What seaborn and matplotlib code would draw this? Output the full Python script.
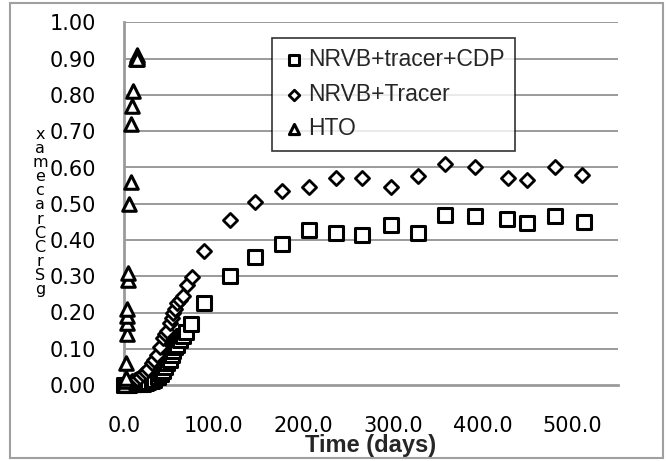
import matplotlib
matplotlib.use("Agg")
import matplotlib.pyplot as plt
import seaborn as sns
import pandas as pd
from matplotlib.patches import Rectangle

# ---------------- data ----------------
cdp_days = [0, 3, 6, 9, 12, 15, 18, 21, 24, 27, 31, 34, 38, 41, 43, 46, 48, 51, 53, 55, 57,
            59, 62, 66, 69, 75, 89, 118, 146, 176, 206, 236, 265, 298, 328, 358, 391, 427,
            449, 481, 513]
cdp_vals = [0.0, 0.0, 0.001, 0.002, 0.002, 0.003, 0.003, 0.004, 0.006, 0.008, 0.01, 0.015,
            0.022, 0.03, 0.04, 0.05, 0.06, 0.07, 0.083, 0.095, 0.105, 0.11, 0.125, 0.135,
            0.145, 0.168, 0.226, 0.30, 0.353, 0.39, 0.427, 0.42, 0.413, 0.44, 0.42, 0.47,
            0.465, 0.458, 0.448, 0.465, 0.45]

trc_days = [0, 3, 6, 9, 12, 15, 18, 21, 24, 27, 31, 34, 37, 40, 43, 46, 48, 51, 53, 55, 57,
            59, 62, 66, 70, 76, 89, 118, 146, 176, 206, 236, 265, 298, 328, 358, 391, 428,
            449, 481, 511]
trc_vals = [0.0, 0.003, 0.006, 0.01, 0.013, 0.017, 0.022, 0.03, 0.035, 0.045, 0.06, 0.07,
            0.083, 0.105, 0.13, 0.14, 0.15, 0.17, 0.185, 0.20, 0.21, 0.226, 0.235, 0.245,
            0.276, 0.298, 0.37, 0.455, 0.505, 0.535, 0.545, 0.57, 0.57, 0.545, 0.577, 0.61,
            0.60, 0.57, 0.565, 0.60, 0.58]

hto_days = [0.5, 1, 2, 2, 3, 3, 3, 3, 4, 4, 6, 8, 8, 9, 10, 13, 14, 15, 14]
hto_vals = [0.0, 0.01, 0.02, 0.06, 0.14, 0.17, 0.19, 0.21, 0.29, 0.31, 0.50, 0.56, 0.72,
            0.77, 0.81, 0.90, 0.91, 0.905, 0.90]

series_names = ["NRVB+tracer+CDP", "NRVB+Tracer", "HTO"]
x_ticks = [0, 100, 200, 300, 400, 500]
y_ticks = [0.0, 0.1, 0.2, 0.3, 0.4, 0.5, 0.6, 0.7, 0.8, 0.9, 1.0]
ylabel_chars = ["x", "a", "m", "e", "c", "a", "r", "C", "C", "r", "S", "g"]

# ---------------- figure ----------------
sns.set_theme(style="white")
plt.rcParams["font.family"] = ["DejaVu Sans"]

fig = plt.figure(figsize=(6.66, 4.61), dpi=100)
fig.patch.set_facecolor("white")
ax = fig.add_axes([124 / 666, 76 / 461, 494 / 666, 362.5 / 461])

grid_c = "#9a9a9a"
for yt in y_ticks[1:]:
    ax.axhline(yt, color=grid_c, lw=1.4, zorder=0)

styles = [
    (cdp_days, cdp_vals, "s", 100, 2.2),
    (trc_days, trc_vals, "D", 52, 2.0),
    (hto_days, hto_vals, "^", 95, 2.2),
]
for (d, v, m, s, lw), name in zip(styles, series_names):
    df = pd.DataFrame({"Time (days)": d, "value": v})
    sns.scatterplot(data=df, x="Time (days)", y="value", ax=ax, marker=m, s=s,
                    facecolor="white", edgecolor="black", linewidth=lw,
                    label=name, zorder=3, clip_on=False)

ax.set_xlim(0, 551)
ax.set_ylim(0, 1.0)
ax.set_xticks(x_ticks)
ax.set_xticklabels([f"{t:.1f}" for t in x_ticks], fontsize=15)
ax.set_yticks(y_ticks)
ax.set_yticklabels([f"{t:.2f}" for t in y_ticks], fontsize=15)
ax.tick_params(axis="both", direction="out", length=7, width=1.4, color=grid_c,
               labelcolor="black")
ax.tick_params(axis="y", pad=13)
ax.tick_params(axis="x", pad=15)
for side in ["top", "right"]:
    ax.spines[side].set_visible(False)
for side in ["left", "bottom"]:
    ax.spines[side].set_color(grid_c)
    ax.spines[side].set_linewidth(2)
ax.set_ylabel("")
ax.set_xlabel("Time (days)", fontsize=17, fontweight="bold",
              family="Liberation Sans", labelpad=-1)

leg = ax.legend(loc="upper left", bbox_to_anchor=(0.30, 0.957), borderaxespad=0,
                frameon=True, fancybox=False, edgecolor="black", markerscale=0.75,
                prop={"family": "Liberation Sans", "size": 16.5}, handletextpad=0.1,
                handlelength=1.0, labelspacing=0.5, borderpad=0.45)
leg.get_frame().set_linewidth(1.2)
leg.set_zorder(5)

# garbled stacked y-label as in the reference (single stacked text)
fig.text(40 / 666, 1 - 212 / 461, "\n".join(ylabel_chars), fontsize=11.5,
         ha="center", va="center", linespacing=0.92, color="black")

fig.patches.append(Rectangle((10 / 666, 3 / 461), 653 / 666, 455 / 461,
                             transform=fig.transFigure, fill=False,
                             edgecolor="#a0a0a0", lw=1.5))

fig.savefig("out.png", dpi=100)
